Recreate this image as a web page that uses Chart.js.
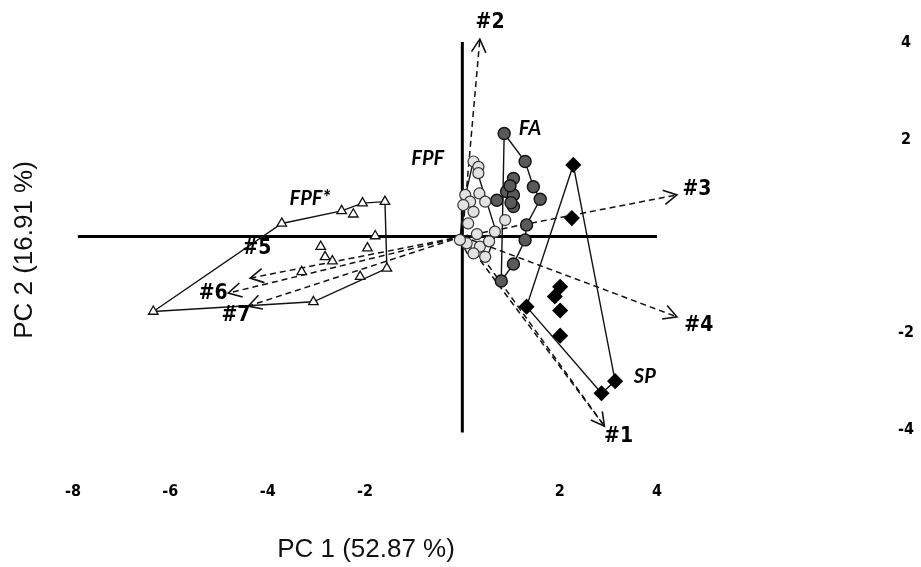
<!DOCTYPE html>
<html>
<head>
<meta charset="utf-8">
<script src="https://cdn.jsdelivr.net/npm/chart.js@4"></script>
<style>
  html, body { margin: 0; padding: 0; background: #fff; }
  #wrap { width: 921px; height: 567px; }
</style>
</head>
<body>
<div id="wrap"><canvas id="pcaChart" width="921" height="567"></canvas></div>
<script>
// tick values
const xTicks = [-8, -6, -4, -2, 2, 4];
const yTicks = [-4, -2, 2, 4];

// scores per group (PC1, PC2)
const fpfStarX = [-6.35, -3.71, -2.48, -2.24, -2.05, -1.59, -1.79, -2.91, -1.95, -2.82, -2.67, -3.30, -2.10, -1.55, -3.06];
const fpfStarY = [-1.55, 0.27, 0.53, 0.46, 0.69, 0.72, 0.01, -0.21, -0.24, -0.42, -0.51, -0.73, -0.83, -0.66, -1.35];
const fpfX = [0.23, 0.33, 0.33, 0.35, 0.06, 0.16, 0.47, 0.23, 0.02, 0.67, 0.88, 0.12, 0.09, 0.36, 0.23, 0.47, -0.05, 0.30, 0.55];
const fpfY = [1.55, 1.44, 1.31, 0.89, 0.86, 0.72, 0.72, 0.51, 0.65, 0.10, 0.34, 0.27, -0.14, -0.21, -0.35, -0.42, -0.07, 0.05, -0.10];
const faX = [0.86, 1.29, 1.05, 1.46, 0.91, 1.05, 1.60, 1.05, 0.71, 1.32, 1.29, 1.05, 0.80, 0.98, 1.00];
const faY = [2.13, 1.55, 1.20, 1.03, 0.93, 0.86, 0.77, 0.62, 0.75, 0.24, -0.07, -0.57, -0.92, 1.05, 0.70];
const spX = [2.28, 2.25, 2.01, 1.90, 2.01, 1.32, 2.01, 2.86, 3.14];
const spY = [1.48, 0.38, -1.04, -1.24, -1.53, -1.45, -2.05, -3.24, -2.99];

// hull outlines
const fpfStarHullX = [-6.35, -3.71, -2.48, -2.05, -1.59, -1.55, -3.06, -6.35];
const fpfStarHullY = [-1.55, 0.27, 0.53, 0.69, 0.72, -0.66, -1.35, -1.55];
const fpfHullX = [0.23, 0.70, 0.50, 0.10, -0.05, 0.02, 0.23];
const fpfHullY = [1.58, 0.08, -0.45, -0.35, -0.07, 0.65, 1.58];
const faHullX = [0.86, 1.29, 1.46, 1.60, 1.32, 1.29, 1.05, 0.80, 0.86];
const faHullY = [2.13, 1.55, 1.03, 0.77, 0.24, -0.07, -0.57, -0.92, 2.13];
const spHullX = [2.28, 3.14, 2.86, 1.32, 2.28];
const spHullY = [1.48, -2.99, -3.24, -1.45, 1.48];

// loading vectors
const arrowNames = ['#1', '#2', '#3', '#4', '#5', '#6', '#7'];
const arrowX = [2.92, 0.36, 4.41, 4.41, -4.36, -4.81, -4.40];
const arrowY = [-3.92, 4.08, 0.86, -1.66, -0.86, -1.17, -1.44];
const arrowLabelX = [3.21, 0.57, 4.82, 4.86, -4.22, -5.12, -4.65];
const arrowLabelY = [-4.14, 4.43, 0.98, -1.85, -0.24, -1.17, -1.64];

// group names
const groupNames = ['FPF', 'FA', 'FPF*', 'SP'];
const groupLabelX = [-0.71, 1.39, -3.13, 3.75];
const groupLabelY = [1.62, 2.24, 0.78, -2.90];

const pts = (xs, ys) => xs.map((v, i) => ({x: v, y: ys[i]}));

const lineSet = (xs, ys, extra) => Object.assign({
    type: 'scatter',
    data: pts(xs, ys),
    showLine: true,
    borderColor: '#111',
    borderWidth: 1.4,
    pointRadius: 0,
    fill: false,
    order: 3
}, extra || {});

const datasets = [];

// axis cross
datasets.push(lineSet([-7.9, 4], [0, 0], {borderWidth: 3, borderColor: '#000', order: 5}));
datasets.push(lineSet([0, 0], [4.02, -4.05], {borderWidth: 3, borderColor: '#000', order: 5}));

// dashed vectors from origin
arrowNames.forEach((n, i) => {
    datasets.push(lineSet([0, arrowX[i]], [0, arrowY[i]], {borderDash: [6, 4], borderWidth: 1.5, order: 4}));
});
datasets.push(lineSet([0.53, arrowX[0]], [-0.59, arrowY[0]], {borderDash: [6, 4], borderWidth: 1.5, order: 4}));

// hulls
datasets.push(lineSet(fpfStarHullX, fpfStarHullY));
datasets.push(lineSet(fpfHullX, fpfHullY));
datasets.push(lineSet(faHullX, faHullY));
datasets.push(lineSet(spHullX, spHullY));

// points
datasets.push({
    type: 'scatter', data: pts(fpfStarX, fpfStarY), pointStyle: 'triangle',
    pointRadius: 5.5, backgroundColor: '#fff', borderColor: '#111', borderWidth: 1.3, order: 1
});
datasets.push({
    type: 'scatter', data: pts(fpfX, fpfY), pointStyle: 'circle',
    pointRadius: 5.5, backgroundColor: '#e2e2e2', borderColor: '#333', borderWidth: 1.2, order: 1
});
datasets.push({
    type: 'scatter', data: pts(faX, faY), pointStyle: 'circle',
    pointRadius: 6, backgroundColor: '#5a5a5a', borderColor: '#111', borderWidth: 1.4, order: 1
});
datasets.push({
    type: 'scatter', data: pts(spX, spY), pointStyle: 'rectRot',
    pointRadius: 7, backgroundColor: '#000', borderColor: '#000', borderWidth: 1.5, order: 1
});

const narrow = "'Liberation Sans Narrow', 'DejaVu Sans Condensed', sans-serif";

const overlay = {
    id: 'overlay',
    afterDatasetsDraw(chart) {
        const {ctx, scales: {x, y}} = chart;
        ctx.save();
        // arrow heads
        ctx.strokeStyle = '#111';
        ctx.lineWidth = 1.6;
        arrowNames.forEach((n, i) => {
            const x0 = x.getPixelForValue(0), y0 = y.getPixelForValue(0);
            const x1 = x.getPixelForValue(arrowX[i]), y1 = y.getPixelForValue(arrowY[i]);
            const a = Math.atan2(y1 - y0, x1 - x0);
            const len = 15, spread = 0.5;
            ctx.beginPath();
            ctx.moveTo(x1 - len * Math.cos(a - spread), y1 - len * Math.sin(a - spread));
            ctx.lineTo(x1, y1);
            ctx.lineTo(x1 - len * Math.cos(a + spread), y1 - len * Math.sin(a + spread));
            ctx.stroke();
        });
        // vector labels
        ctx.fillStyle = '#000';
        ctx.textAlign = 'center';
        ctx.textBaseline = 'middle';
        ctx.font = 'bold 21px ' + narrow;
        arrowNames.forEach((n, i) => {
            ctx.fillText(n, x.getPixelForValue(arrowLabelX[i]), y.getPixelForValue(arrowLabelY[i]));
        });
        // group labels
        ctx.font = 'italic bold 20px Lato, "Open Sans", sans-serif';
        groupNames.forEach((n, i) => {
            ctx.fillText(n, x.getPixelForValue(groupLabelX[i]), y.getPixelForValue(groupLabelY[i]));
        });
        ctx.restore();
    },
    afterDraw(chart) {
        const ctx = chart.ctx;
        ctx.save();
        ctx.fillStyle = '#111';
        ctx.textAlign = 'center';
        ctx.textBaseline = 'middle';
        ctx.font = '26px "Liberation Sans", Arial, sans-serif';
        ctx.fillText('PC 1 (52.87 %)', 366, 550);
        ctx.translate(25, 250);
        ctx.rotate(-Math.PI / 2);
        ctx.fillText('PC 2 (16.91 %)', 0, 0);
        ctx.restore();
    }
};

new Chart(document.getElementById('pcaChart').getContext('2d'), {
    type: 'scatter',
    data: {datasets: datasets},
    options: {
        responsive: false,
        animation: false,
        layout: {padding: {left: 58, top: 15, right: 0, bottom: 0}},
        plugins: {
            legend: {display: false},
            tooltip: {enabled: false}
        },
        scales: {
            x: {
                type: 'linear',
                position: 'bottom',
                min: -8.308,
                max: 8.685,
                grid: {display: false, drawTicks: false},
                border: {display: false},
                afterBuildTicks: (scale) => { scale.ticks = xTicks.map(v => ({value: v})); },
                afterFit: (scale) => { scale.height = 97; scale.paddingLeft = 0; scale.paddingRight = 0; },
                ticks: {
                    padding: 12,
                    color: '#000',
                    font: {family: narrow, size: 16, weight: 'bold'},
                    maxRotation: 0
                }
            },
            y: {
                type: 'linear',
                position: 'right',
                min: -4.827,
                max: 4.579,
                grid: {display: false, drawTicks: false},
                border: {display: false},
                afterBuildTicks: (scale) => { scale.ticks = yTicks.map(v => ({value: v})); },
                afterFit: (scale) => { scale.width = 36; scale.paddingTop = 0; scale.paddingBottom = 0; },
                ticks: {
                    padding: 13,
                    crossAlign: 'center',
                    color: '#000',
                    font: {family: narrow, size: 16, weight: 'bold'}
                }
            }
        }
    },
    plugins: [overlay]
});
</script>
</body>
</html>
